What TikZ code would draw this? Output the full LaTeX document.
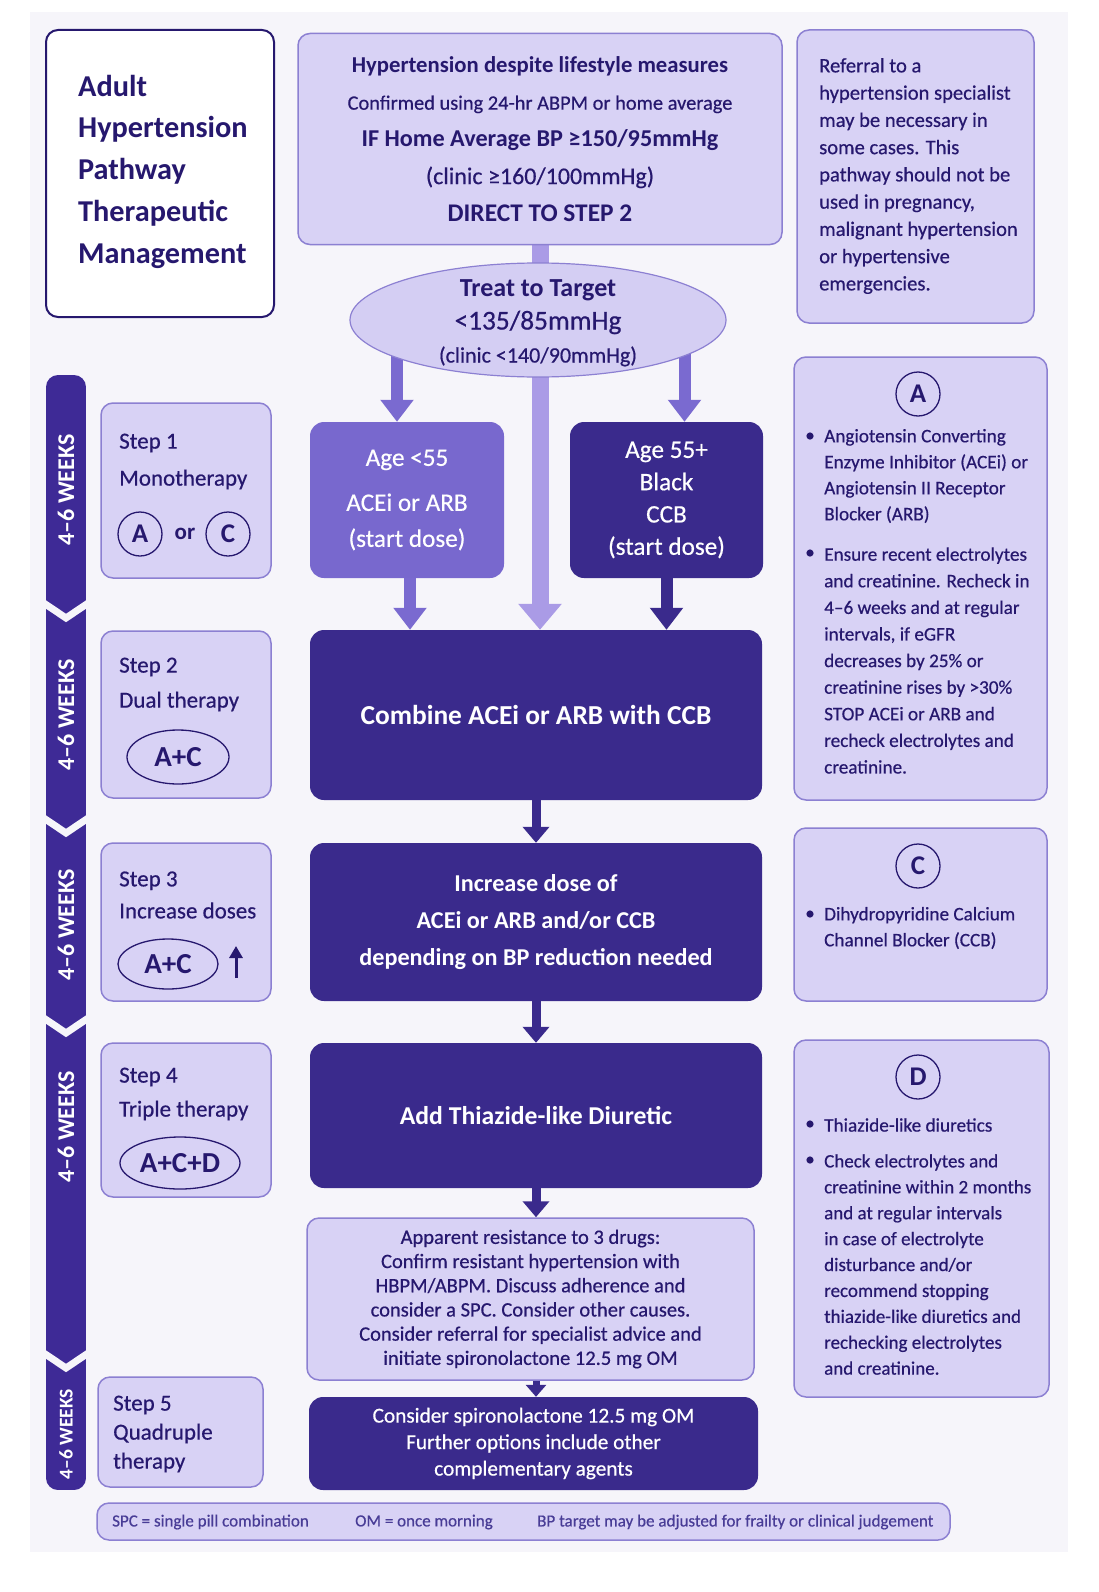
\documentclass[tikz,border=0pt]{standalone}
\usepackage{fontspec}
\setmainfont{Carlito}[UprightFeatures={FakeBold=0.5}]
\usetikzlibrary{shapes.geometric,arrows.meta,positioning}

\definecolor{navy}{RGB}{38,24,110}
\definecolor{bggray}{RGB}{246,245,250}
\definecolor{litefill}{RGB}{216,210,245}
\definecolor{liteline}{RGB}{140,128,210}
\definecolor{darkfill}{RGB}{58,42,140}
\definecolor{midfill}{RGB}{120,104,206}
\definecolor{midarrow}{RGB}{122,106,208}
\definecolor{palearrow}{RGB}{170,155,230}
\definecolor{weekbar}{RGB}{62,42,150}
\definecolor{foottext}{RGB}{72,60,150}

\newcommand{\fsz}[2]{\fontsize{#1}{#2}\selectfont}

\pgfdeclarelayer{bg}
\pgfdeclarelayer{back}
\pgfsetlayers{bg,back,main}

\tikzset{
  sz/.style 2 args={minimum width=#1pt, minimum height=#2pt},
  titlebox/.style={draw=navy, fill=white, line width=2pt, rounded corners=12pt, inner sep=0pt},
  litebox/.style={draw=liteline, fill=litefill, line width=1.5pt, rounded corners=12pt, inner sep=0pt, text=navy},
  darkbox/.style={fill=darkfill, rounded corners=14pt, inner sep=0pt, text=white, align=center},
  midbox/.style={fill=midfill, rounded corners=14pt, inner sep=0pt, text=white, align=center},
  tgtell/.style={ellipse, draw=liteline, fill=litefill!95!liteline, line width=1.2pt, inner sep=0pt},
  lefttxt/.style={anchor=west, align=left, inner sep=0pt, text=navy},
  weektxt/.style={rotate=90, text=white, font=\bfseries\fsz{24}{28}, inner sep=0pt},
  letter/.style={circle, draw=navy, line width=1.3pt, minimum size=44pt, inner sep=0pt, font=\bfseries\fsz{27}{30}, text=navy},
  combo/.style={ellipse, draw=navy, line width=1.3pt, inner sep=0pt, font=\bfseries\fsz{29}{30}, text=navy},
  bul/.style={inner sep=0pt, text=navy, font=\fsz{19}{26.5}},
  paledown/.style={palearrow, line width=17pt, -{Triangle[width=42pt,length=26pt]}},
  middown/.style={midarrow, line width=12pt, -{Triangle[width=32pt,length=22pt]}},
  darkdown/.style={darkfill, line width=9pt, -{Triangle[width=26pt,length=16pt]}},
  uparrow/.style={navy, line width=3pt, -{Triangle[width=13pt,length=12pt]}}
}

\begin{document}
\begin{tikzpicture}[x=1pt,y=-1pt]
\useasboundingbox (0,0) rectangle (1098,1592);
\begin{pgfonlayer}{bg}
  \fill[bggray] (30,12) rectangle (1068,1552);
\end{pgfonlayer}

% header row
\node[titlebox, sz={228}{287}] (title) at (160,173.5) {};
\node[lefttxt, font=\bfseries\fsz{30.3}{41.75}] (titletext) at (78,171.5)
  {Adult\\Hypertension\\Pathway\\Therapeutic\\Management};

\node[litebox, sz={484}{211}, align=center, font=\fsz{22.7}{37.2}] (start) at (540,139)
  {{\bfseries Hypertension despite lifestyle measures}\\
   {\fsz{20.4}{37.2}Confirmed using 24-hr ABPM or home average}\\
   {\bfseries\fsz{24.2}{37.2}IF Home Average BP ≥150/95mmHg}\\
   {\fsz{24}{37.2}(clinic ≥160/100mmHg)}\\
   {\bfseries\fsz{25.4}{37.2}DIRECT TO STEP 2}};

\node[litebox, sz={237}{293}] (refer) at (915.5,176.5) {};
\node[lefttxt, font=\fsz{20.6}{27.25}] (refertext) at (819,176)
  {Referral to a\\hypertension specialist\\may be necessary in\\some cases. This\\pathway should not be\\used in pregnancy,\\malignant hypertension\\or hypertensive\\emergencies.};

\node[tgtell, sz={376}{114}] (tgt) at (538,320) {};
\node[align=center, text=navy, inner sep=0pt, font=\fsz{26}{33}] (tgttext) at (538,323)
  {{\bfseries Treat to Target}\\
   {\fsz{27.3}{33}<135/85mmHg}\\
   {\fsz{22}{33}(clinic <140/90mmHg)}};

% week bar
\begin{scope}
  \clip[rounded corners=12pt] (46,375) rectangle (86,1490);
  \fill[weekbar] (46,375) rectangle (86,1490);
  \foreach \b in {605,820,1020,1355}
    \draw[bggray, line width=7pt] (40,\b-4.5) -- (66,\b+13) -- (92,\b-4.5);
\end{scope}
\foreach \y/\n in {490/1,715/2,925/3,1127/4}
  \node[weektxt] (wk\n) at (66,\y) {4–6 WEEKS};
\node[weektxt, font=\bfseries\fsz{19.5}{24}] (wk5) at (66,1434) {4–6 WEEKS};

% steps
\node[litebox, sz={170}{175}] (step1) at (186,490.5) {};
\node[lefttxt, font=\fsz{23}{37}] (step1text) at (119,461.5) {Step 1\\Monotherapy};
\node[letter] (s1a) at (140,534) {A};
\node[text=navy, font=\bfseries\fsz{23}{26}, inner sep=0pt] (s1or) at (185,534) {or};
\node[letter] (s1c) at (228,534) {C};

\node[litebox, sz={170}{167}] (step2) at (186,714.5) {};
\node[lefttxt, font=\fsz{23}{35}] (step2text) at (119,684.5) {Step 2\\Dual therapy};
\node[combo, sz={102}{54}] (s2ac) at (178,757) {A+C};

\node[litebox, sz={170}{158}] (step3) at (186,922) {};
\node[lefttxt, font=\fsz{23}{32}] (step3text) at (119,895) {Step 3\\Increase doses};
\node[combo, sz={100}{50}] (s3ac) at (168,964) {A+C};
\coordinate (up3a) at (236,978);
\coordinate (up3b) at (236,946);
\draw[uparrow] (up3a) -- (up3b);

\node[litebox, sz={170}{154}] (step4) at (186,1120) {};
\node[lefttxt, font=\fsz{23}{34}] (step4text) at (119,1094) {Step 4\\Triple therapy};
\node[combo, sz={120}{52}] (s4acd) at (180,1163) {A+C+D};

\node[litebox, sz={165}{110}] (step5) at (180.5,1432) {};
\node[lefttxt, font=\fsz{23}{29}] (step5text) at (113,1434) {Step 5\\Quadruple\\therapy};

% main column
\node[midbox, sz={194}{156}, font=\fsz{25.2}{36}] (age1) at (407,500)
  {Age <55\\[9pt]ACEi or ARB\\(start dose)};
\node[darkbox, sz={193}{156}, font=\fsz{25.2}{32.3}] (age2) at (666.5,500)
  {Age 55+\\Black\\CCB\\(start dose)};
\node[darkbox, sz={452}{170}, font=\bfseries\fsz{27.4}{32}] (combine) at (536,715)
  {Combine ACEi or ARB with CCB};
\node[darkbox, sz={452}{158}, font=\bfseries\fsz{24.2}{37}] (increase) at (536,922)
  {Increase dose of\\ACEi or ARB and/or CCB\\depending on BP reduction needed};
\node[darkbox, sz={452}{145}, font=\bfseries\fsz{25.7}{30}] (add) at (536,1115.5)
  {Add Thiazide-like Diuretic};
\node[litebox, sz={447}{162}, align=center, font=\fsz{20.5}{24.2}] (resist) at (530.5,1299)
  {Apparent resistance to 3 drugs:\\Confirm resistant hypertension with\\HBPM/ABPM. Discuss adherence and\\consider a SPC. Consider other causes.\\Consider referral for specialist advice and\\initiate spironolactone 12.5 mg OM};
\node[darkbox, sz={449}{93}, font=\fsz{21.3}{26.5}] (spiro) at (533.5,1443.5)
  {Consider spironolactone 12.5 mg OM\\Further options include other\\complementary agents};

% arrows
\begin{pgfonlayer}{back}
  \draw[paledown] (start.south) -- (start.south |- combine.north);
  \draw[middown] ([xshift=-10pt]age1.north |- tgt.center) -- ([xshift=-10pt]age1.north);
  \draw[middown] ([xshift=18pt]age2.north |- tgt.center) -- ([xshift=18pt]age2.north);
\end{pgfonlayer}
\draw[middown] ([xshift=3pt]age1.south) -- ([xshift=3pt]age1.south |- combine.north);
\draw[darkdown, line width=12pt, -{Triangle[width=32pt,length=22pt]}] (age2.south) -- (age2.south |- combine.north);
\draw[darkdown] (combine.south) -- (increase.north);
\draw[darkdown] (increase.south) -- (add.north);
\draw[darkdown] (add.south) -- (add.south |- resist.north);
\draw[darkdown, line width=7pt, -{Triangle[width=20pt,length=12pt]}] (add.south |- resist.south) -- (add.south |- spiro.north);

% right column
\node[litebox, sz={253}{443}] (boxa) at (920.5,578.5) {};
\node[letter, fill=litefill] (la) at (918,394) {A};
\node[bul] (ba1) at (810,437) {•};
\node[lefttxt, font=\fsz{19.2}{26}] (ta1) at (824,476)
  {Angiotensin Converting\\Enzyme Inhibitor (ACEi) or\\Angiotensin II Receptor\\Blocker (ARB)};
\node[bul] (ba2) at (810,554) {•};
\node[lefttxt, font=\fsz{19.2}{26.6}] (ta2) at (824,660.5)
  {Ensure recent electrolytes\\and creatinine. Recheck in\\4–6 weeks and at regular\\intervals, if eGFR\\decreases by 25\% or\\creatinine rises by >30\%\\STOP ACEi or ARB and\\recheck electrolytes and\\creatinine.};

\node[litebox, sz={253}{173}] (boxc) at (920.5,914.5) {};
\node[letter, fill=litefill] (lc) at (918,866) {C};
\node[bul] (bc1) at (810,915) {•};
\node[lefttxt, font=\fsz{19.2}{26}] (tc1) at (824,928)
  {Dihydropyridine Calcium\\Channel Blocker (CCB)};

\node[litebox, sz={255}{357}] (boxd) at (921.5,1218.5) {};
\node[letter, fill=litefill] (ld) at (918,1077) {D};
\node[bul] (bd1) at (810,1125) {•};
\node[lefttxt, font=\fsz{19.2}{26}] (td1) at (824,1125) {Thiazide-like diuretics};
\node[bul] (bd2) at (810,1161) {•};
\node[lefttxt, font=\fsz{19}{25.9}] (td2) at (824,1264.5)
  {Check electrolytes and\\creatinine within 2 months\\and at regular intervals\\in case of electrolyte\\disturbance and/or\\recommend stopping\\thiazide-like diuretics and\\rechecking electrolytes\\and creatinine.};

% footer
\node[litebox, sz={853}{37}] (foot) at (523.5,1521.5) {};
\node[lefttxt, text=foottext, font=\fsz{17}{20}] (f1) at (112,1522) {SPC = single pill combination};
\node[lefttxt, text=foottext, font=\fsz{17}{20}] (f2) at (355,1522) {OM = once morning};
\node[lefttxt, text=foottext, font=\fsz{17}{20}] (f3) at (537,1522) {BP target may be adjusted for frailty or clinical judgement};
\end{tikzpicture}
\end{document}
